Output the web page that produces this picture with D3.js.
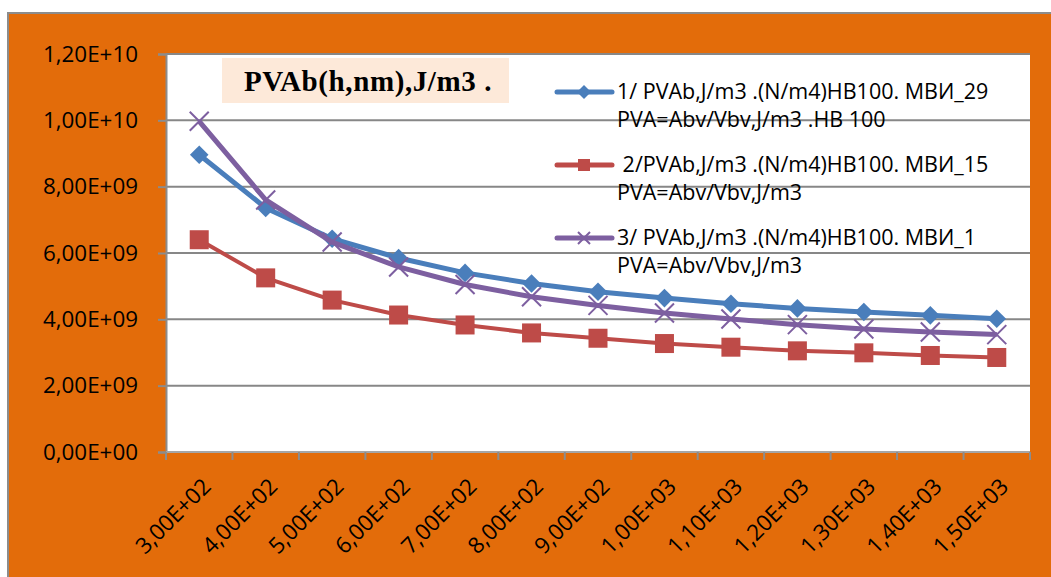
<!DOCTYPE html>
<html>
<head>
<meta charset="utf-8">
<script src="https://cdn.jsdelivr.net/npm/d3@7"></script>
<style>
  body { margin: 0; background: #ffffff; }
  svg { display: block; }
</style>
</head>
<body>
<div id="chart"></div>
<script>
// Categories (h, nm) and tick labels
const categories = [300, 400, 500, 600, 700, 800, 900, 1000, 1100, 1200, 1300, 1400, 1500];
const xLabels = ["3,00E+02", "4,00E+02", "5,00E+02", "6,00E+02", "7,00E+02", "8,00E+02", "9,00E+02",
                 "1,00E+03", "1,10E+03", "1,20E+03", "1,30E+03", "1,40E+03", "1,50E+03"];
const yTicks = [0, 2e9, 4e9, 6e9, 8e9, 1e10, 1.2e10];
const yLabels = ["0,00E+00", "2,00E+09", "4,00E+09", "6,00E+09", "8,00E+09", "1,00E+10", "1,20E+10"];

// Series values, J/m3
const mvi29 = [8.96e9, 7.36e9, 6.43e9, 5.85e9, 5.40e9, 5.08e9, 4.83e9, 4.64e9, 4.47e9, 4.33e9, 4.22e9, 4.12e9, 4.02e9];
const mvi15 = [6.40e9, 5.25e9, 4.58e9, 4.13e9, 3.83e9, 3.59e9, 3.43e9, 3.27e9, 3.16e9, 3.05e9, 2.99e9, 2.91e9, 2.85e9];
const mvi1  = [9.97e9, 7.60e9, 6.33e9, 5.58e9, 5.05e9, 4.68e9, 4.42e9, 4.19e9, 4.01e9, 3.84e9, 3.71e9, 3.62e9, 3.54e9];

const chartTitle = "PVAb(h,nm),J/m3 .";
const legendLines = [
    ["1/ PVAb,J/m3 .(N/m4)НВ100. МВИ_29", "PVA=Abv/Vbv,J/m3 .НВ 100"],
    [" 2/PVAb,J/m3 .(N/m4)НВ100. МВИ_15", "PVA=Abv/Vbv,J/m3"],
    ["3/ PVAb,J/m3 .(N/m4)НВ100. МВИ_1", "PVA=Abv/Vbv,J/m3"]
];

const series = [
    { values: mvi29, color: "#4A7EBB", marker: "diamond", width: 5 },
    { values: mvi15, color: "#BE4B48", marker: "square", width: 4 },
    { values: mvi1,  color: "#7D5FA0", marker: "cross", width: 5 }
];

const W = 1051, H = 577;
const margin = { top: 54, right: 21, bottom: 125, left: 166 };
const width = W - margin.left - margin.right,
      height = H - margin.top - margin.bottom;
const font = "'Open Sans', 'DejaVu Sans', sans-serif";

const svg = d3.select("#chart")
    .append("svg")
    .attr("width", W)
    .attr("height", H);

// Orange chart area with grey border
svg.append("rect")
    .attr("x", 8).attr("y", 13)
    .attr("width", W).attr("height", H)
    .attr("fill", "#E36C0A")
    .attr("stroke", "#8c8c8c")
    .attr("stroke-width", 2);

const g = svg.append("g")
    .attr("transform", "translate(" + margin.left + "," + margin.top + ")");

// White plot area
g.append("rect")
    .attr("width", width)
    .attr("height", height)
    .attr("fill", "#ffffff");

var x = d3.scaleBand()
    .domain(categories)
    .range([0, width]);

var y = d3.scaleLinear()
    .domain([0, 1.2e10])
    .range([height, 0]);

// Horizontal gridlines
g.append("g")
    .selectAll("line")
    .data(yTicks.slice(1))
    .enter()
    .append("line")
    .attr("x1", 0).attr("x2", width)
    .attr("y1", d => y(d)).attr("y2", d => y(d))
    .attr("stroke", "#878787")
    .attr("stroke-width", 2);

// Y axis
const yAxis = g.append("g")
    .call(d3.axisLeft(y)
        .tickValues(yTicks)
        .tickFormat((d, i) => yLabels[i])
        .tickSize(8)
        .tickPadding(20));
yAxis.select(".domain").attr("stroke", "#8c8c8c").attr("stroke-width", 2);
yAxis.selectAll(".tick line").attr("stroke", "#8c8c8c").attr("stroke-width", 2);
yAxis.selectAll("text")
    .style("font-family", font)
    .style("font-size", "22.4px")
    .attr("fill", "#000");

// X axis, ticks on band edges
const xAxis = g.append("g")
    .attr("transform", "translate(0," + height + ")");
xAxis.append("line")
    .attr("x1", 0).attr("x2", width)
    .attr("stroke", "#a6a6a6").attr("stroke-width", 2);
xAxis.selectAll(".edge")
    .data(categories.concat([null]))
    .enter()
    .append("line")
    .attr("class", "edge")
    .attr("x1", (d, i) => i * x.step()).attr("x2", (d, i) => i * x.step())
    .attr("y1", 0).attr("y2", 8)
    .attr("stroke", "#8c8c8c").attr("stroke-width", 2);
xAxis.selectAll(".lbl")
    .data(categories)
    .enter()
    .append("text")
    .attr("class", "lbl")
    .attr("text-anchor", "end")
    .attr("transform", d => "translate(" + (x(d) + x.bandwidth() / 2 + 13) + ",36) rotate(-45)")
    .style("font-family", font)
    .style("font-size", "22.4px")
    .attr("fill", "#000")
    .text((d, i) => xLabels[i]);

// Title box
const titleG = svg.append("g");
titleG.append("rect")
    .attr("x", 222).attr("y", 58)
    .attr("width", 287).attr("height", 45)
    .attr("fill", "#FDE9D9");
titleG.append("text")
    .attr("x", 368).attr("y", 91)
    .attr("text-anchor", "middle")
    .style("font-family", "'Liberation Serif', 'Times New Roman', serif")
    .style("font-weight", "bold")
    .style("font-size", "29px")
    .style("letter-spacing", "0.6px")
    .text(chartTitle);

// Marker drawing
function drawMarker(sel, type, color, size) {
    if (type === "diamond") {
        sel.append("path")
            .attr("d", d3.symbol().type(d3.symbolDiamond2).size(size * size * 0.55)())
            .attr("fill", color);
    } else if (type === "square") {
        sel.append("rect")
            .attr("x", -size / 2).attr("y", -size / 2)
            .attr("width", size).attr("height", size)
            .attr("fill", color);
    } else {
        const h = size / 2;
        sel.append("path")
            .attr("d", "M" + (-h) + "," + (-h) + "L" + h + "," + h + "M" + (-h) + "," + h + "L" + h + "," + (-h))
            .attr("stroke", color)
            .attr("stroke-width", 2)
            .attr("fill", "none");
    }
}

var line = d3.line()
    .x((d, i) => x(categories[i]) + x.bandwidth() / 2)
    .y(d => y(d));

// Draw series in Excel order (last on top)
series.forEach(s => {
    g.append("path")
        .datum(s.values)
        .attr("fill", "none")
        .attr("stroke", s.color)
        .attr("stroke-width", s.width)
        .attr("stroke-linejoin", "round")
        .attr("d", line);
    const size = s.marker === "diamond" ? 20 : 19;
    s.values.forEach((v, i) => {
        const m = g.append("g")
            .attr("transform", "translate(" + (x(categories[i]) + x.bandwidth() / 2) + "," + y(v) + ")");
        drawMarker(m, s.marker, s.color, size);
    });
});

// Legend
const legend = svg.append("g").attr("transform", "translate(557,0)");
const legendY = [92, 165, 238];
series.forEach((s, i) => {
    const row = legend.append("g").attr("transform", "translate(0," + legendY[i] + ")");
    row.append("line")
        .attr("x1", 0).attr("x2", 55)
        .attr("stroke", s.color)
        .attr("stroke-width", 5)
        .attr("stroke-linecap", "round");
    const m = row.append("g").attr("transform", "translate(27,0)");
    drawMarker(m, s.marker, s.color, s.marker === "diamond" ? 15 : 12);
    legendLines[i].forEach((t, j) => {
        row.append("text")
            .attr("x", 60)
            .attr("y", 7 + j * 28)
            .style("font-family", font)
            .style("font-size", "21.5px")
            .style("white-space", "pre")
            .attr("fill", "#000")
            .text(t);
    });
});
</script>
</body>
</html>
